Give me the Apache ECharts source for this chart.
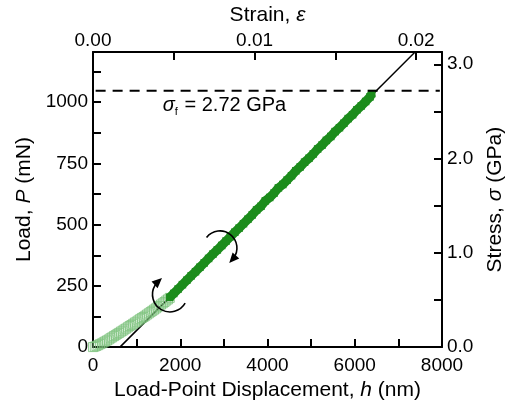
<!DOCTYPE html>
<html><head><meta charset="utf-8">
<script src="https://cdn.jsdelivr.net/npm/echarts@6/dist/echarts.min.js"></script>
<style>html,body{margin:0;padding:0;background:#fff}#c{width:514px;height:406px}</style>
</head><body><div id="c"></div>
<script>
// Lower (initial loading) part of the curve, light hollow squares
const curveH = [0,40,80,120,160,200,240,280,320,360,400,440,480,520,560,600,640,680,720,760,800,840,880,920,960,1000,1040,1080,1120,1160,1200,1240,1280,1320,1360,1400,1440,1480,1520,1560,1600,1640,1680,1720,1760];
const curveP = [0,2,5,8,12,15,19,23,27,31,36,40,45,49,54,58,63,67,72,76,81,86,90,95,100,104,109,114,119,123,128,133,138,143,148,153,158,163,168,174,179,184,190,195,201];
// Dense linear part of the curve
const bandH = [1760,1850,1950,2050,2150,2250,2350,2450,2550,2650,2750,2850,2950,3050,3150,3250,3350,3450,3550,3650,3750,3850,3950,4050,4150,4250,4350,4450,4550,4650,4750,4850,4950,5050,5150,5250,5350,5450,5550,5650,5750,5850,5950,6050,6150,6250,6350,6390];
const bandP = [203,219,237,255,273,291,308,326,344,362,380,397,415,433,451,469,486,504,522,540,560,575,597,611,629,650,664,682,700,720,736,755,771,789,809,825,844,860,880,896,914,933,949,969,985,1003,1022,1035];
// Linear fit line
const fitH = [617, 7383];
const fitP = [0, 1205];
// Fracture stress
const sigmaF = 2.72;
// Tick labels
const loadLabels = [0, 250, 500, 750, 1000];
const stressLabels = [0, 1, 2, 3];
const dispLabels = [0, 2000, 4000, 6000, 8000];
const strainLabels = [0, 0.01, 0.02];

const FONT = '"Liberation Sans", Arial, Helvetica, sans-serif';
const TICK_FS = 19, NAME_FS = 21;
const chart = echarts.init(document.getElementById('c'), null, {renderer: 'canvas'});

function hasLabel(list, v) {
  return list.some(l => Math.abs(l - v) < 1e-9);
}
const axisLineStyle = {show: true, onZero: false, lineStyle: {color: '#000', width: 2}};
const tickStyle = {show: true, inside: true, length: 8, lineStyle: {color: '#000', width: 2}};
const labelBase = {color: '#000', fontSize: TICK_FS, fontFamily: FONT};
const nameBase = {color: '#000', fontSize: NAME_FS, fontFamily: FONT};
const italic = {fontStyle: 'italic', fontSize: NAME_FS, fontFamily: FONT, color: '#000'};

chart.setOption({
  animation: false,
  backgroundColor: '#fff',
  grid: {left: 93, right: 71, top: 52, bottom: 58, containLabel: false},
  xAxis: [
    {
      type: 'value', position: 'bottom', min: 0, max: 8000, interval: 1000,
      axisLine: axisLineStyle, axisTick: tickStyle, splitLine: {show: false},
      axisLabel: Object.assign({}, labelBase, {margin: 9, formatter: v => dispLabels.includes(v) ? String(v) : ''}),
      name: 'Load-Point Displacement, {i|h} (nm)', nameLocation: 'middle', nameGap: 32,
      nameTextStyle: Object.assign({}, nameBase, {rich: {i: italic}})
    },
    {
      type: 'value', position: 'top', min: 0, max: 0.0216, interval: 0.005,
      axisLine: axisLineStyle, axisTick: tickStyle, splitLine: {show: false},
      axisLabel: Object.assign({}, labelBase, {margin: 2, formatter: v => hasLabel(strainLabels, v) ? v.toFixed(2) : ''}),
      name: 'Strain, {i|ε}', nameLocation: 'middle', nameGap: 18,
      nameTextStyle: Object.assign({}, nameBase, {rich: {i: italic}})
    }
  ],
  yAxis: [
    {
      type: 'value', position: 'left', min: 0, max: 1205, interval: 125,
      axisLine: axisLineStyle, axisTick: tickStyle, splitLine: {show: false},
      axisLabel: Object.assign({}, labelBase, {margin: 5, formatter: v => loadLabels.includes(v) ? String(v) : ''}),
      name: 'Load, {i|P} (mN)', nameLocation: 'middle', nameGap: 56, nameRotate: 90,
      nameTextStyle: Object.assign({}, nameBase, {rich: {i: italic}})
    },
    {
      type: 'value', position: 'right', min: 0, max: 3.13, interval: 0.5,
      axisLine: axisLineStyle, axisTick: tickStyle, splitLine: {show: false},
      axisLabel: Object.assign({}, labelBase, {margin: 5, formatter: v => hasLabel(stressLabels, v) ? v.toFixed(1) : ''}),
      name: 'Stress, {i|σ} (GPa)', nameLocation: 'middle', nameGap: 43, nameRotate: 90,
      nameTextStyle: Object.assign({}, nameBase, {rich: {i: italic}})
    }
  ],
  series: [
    {
      type: 'line', xAxisIndex: 0, yAxisIndex: 0, z: 2,
      data: fitH.map((h, i) => [h, fitP[i]]),
      showSymbol: false, symbol: 'none',
      lineStyle: {color: '#000', width: 1.5}
    },
    {
      type: 'scatter', xAxisIndex: 0, yAxisIndex: 0, z: 3,
      data: curveH.map((h, i) => [h, curveP[i]]),
      symbol: 'rect', symbolSize: 9,
      itemStyle: {color: 'rgba(0,0,0,0)', borderColor: '#7cc27c', borderWidth: 1}
    },
    {
      type: 'line', xAxisIndex: 0, yAxisIndex: 0, z: 4,
      data: bandH.map((h, i) => [h, bandP[i]]),
      symbol: 'rect', symbolSize: 7.5, showAllSymbol: true,
      lineStyle: {color: '#1c8c1c', width: 9},
      itemStyle: {color: '#1c8c1c', borderWidth: 0}
    },
    {
      type: 'line', xAxisIndex: 0, yAxisIndex: 1, z: 5,
      data: [[60, sigmaF], [7950, sigmaF]],
      showSymbol: false, symbol: 'none',
      lineStyle: {color: '#000', width: 2, type: [10, 7]}
    }
  ]
});

// Annotations (curved arrows and fracture stress label), anchored at data coordinates
const toPx = (h, p) => chart.convertToPixel({xAxisIndex: 0, yAxisIndex: 0}, [h, p]);
function arrow(center, r, a0, a1) {
  const d = Math.PI / 180;
  const s = a0 * d, e = a1 * d;
  const ex = center[0] + r * Math.cos(e), ey = center[1] + r * Math.sin(e);
  const tx = -Math.sin(e), ty = Math.cos(e);
  const nx = -ty, ny = tx;
  const L = 5, W = 4.5;
  return [
    {type: 'arc', shape: {cx: center[0], cy: center[1], r: r, startAngle: s, endAngle: e, clockwise: true},
     style: {stroke: '#000', lineWidth: 1.6, fill: null}, z: 100},
    {type: 'polygon', shape: {points: [
      [ex + tx * L, ey + ty * L],
      [ex - tx * L + nx * W, ey - ty * L + ny * W],
      [ex - tx * L - nx * W, ey - ty * L - ny * W]
    ]}, style: {fill: '#000'}, z: 100}
  ];
}
const c1 = toPx(1765, 215);
const c2 = toPx(2910, 405);
const tp = toPx(1600, 986);
chart.setOption({
  graphic: [].concat(
    arrow(c1, 17.5, 30, 228),
    arrow(c2, 17, 218, 402),
    [{type: 'text', z: 100, x: tp[0], y: tp[1], style: {
      text: '{s|σ}{f|f} = 2.72 GPa', fill: '#000', fontSize: 20, fontFamily: FONT,
      verticalAlign: 'middle', align: 'left',
      rich: {s: {fontStyle: 'italic', fontSize: 20, fontFamily: FONT}, f: {fontSize: 11, fontFamily: FONT, padding: [12, 1, 0, 0]}}
    }}]
  )
});
</script></body></html>
